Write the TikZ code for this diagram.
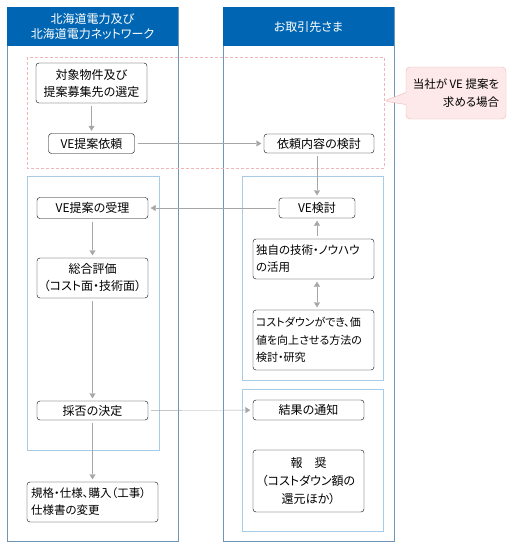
\documentclass[tikz,border=0pt]{standalone}
\usepackage{fontspec}
\setmainfont{Noto Sans CJK JP}[RawFeature={+palt}]
\usetikzlibrary{shapes,shapes.callouts,arrows.meta,positioning,calc}

\definecolor{lanehead}{HTML}{0066B3}
\definecolor{laneline}{HTML}{6F95B9}
\definecolor{groupline}{HTML}{A8CCE6}
\definecolor{calloutfill}{HTML}{FDE9E9}
\definecolor{calloutline}{HTML}{F2B4B4}
\definecolor{flowline}{HTML}{A6A6A6}

\begin{document}
\begin{tikzpicture}[x=1pt,y=-1pt,
    every node/.style={font=\fontsize{12}{17}\selectfont},
    flowbox/.style={draw=black, fill=white, rounded corners=3pt, align=center, inner sep=2pt},
    leftbox/.style={flowbox, align=left, inner xsep=3pt, font=\fontsize{11.5}{17}\selectfont},
    flow/.style={draw=flowline, -{Triangle[length=5pt,width=6pt]}, shorten <=3pt, shorten >=2.5pt},
    lane/.style={draw=laneline},
    group/.style={draw=groupline}]
    \useasboundingbox (0,0) rectangle (510,549);
    \draw[lane] (7,7) rectangle (178,541);
    \fill[lanehead] (7,7) rectangle (178,46);
    \draw[lane] (223,7) rectangle (394,541);
    \fill[lanehead] (223,7) rectangle (394,46);
    \node[text=white, align=center, font=\fontsize{12}{15}\selectfont] (headhep) at (92.5,26.5) {北海道電力及び\\北海道電力ネットワーク};
    \node[text=white] (headpartner) at (308.5,27) {お取引先さま};
    \draw[calloutline, dash pattern=on 3pt off 2pt] (27,57) rectangle (384,168);
    \draw[group] (27,176) rectangle (159,450);
    \draw[group] (242,176) rectangle (383,380);
    \draw[group] (242,389) rectangle (383,531);
    \node[rectangle callout, draw=calloutline, fill=calloutfill, rounded corners=4pt, minimum width=100pt, minimum height=52pt, align=right, font=\fontsize{11.5}{18}\selectfont, callout absolute pointer={(384,101)}, callout pointer width=12pt] (vecase) at (456,93) {当社が VE 提案を\\求める場合};
    \node[flowbox, minimum width=111pt, minimum height=40pt] (select) at (91.5,83) {対象物件及び\\提案募集先の選定};
    \node[flowbox, minimum width=86pt, minimum height=20pt] (request) at (91.5,143.5) {VE提案依頼};
    \node[flowbox, minimum width=110pt, minimum height=19pt] (review) at (319,143.5) {依頼内容の検討};
    \node[flowbox, minimum width=111pt, minimum height=21pt] (accept) at (92.5,208) {VE提案の受理};
    \node[flowbox, minimum width=111pt, minimum height=40pt] (evaluate) at (92.5,278) {総合評価\\（コスト面・技術面）};
    \node[flowbox, minimum width=111pt, minimum height=19pt] (decide) at (92.5,410.5) {採否の決定};
    \node[leftbox, minimum width=131pt, minimum height=40pt, text width=123pt] (change) at (92.5,502) {規格・仕様、購入（工事）\\仕様書の変更};
    \node[flowbox, minimum width=76pt, minimum height=20pt] (vestudy) at (317,208) {VE検討};
    \node[leftbox, minimum width=121pt, minimum height=40pt, text width=115pt] (knowhow) at (313.5,259) {独自の技術・ノウハウ\\の活用};
    \node[leftbox, minimum width=121pt, minimum height=60pt, text width=115pt, font=\fontsize{11}{17.5}\selectfont] (research) at (313.5,340) {コストダウンができ、価\\値を向上させる方法の\\検討・研究};
    \node[flowbox, minimum width=111pt, minimum height=20pt] (notify) at (308.5,410) {結果の通知};
    \node[flowbox, minimum width=111pt, minimum height=62pt, font=\fontsize{12}{18}\selectfont] (reward) at (308.5,481) {報　奨\\（コストダウン額の\\還元ほか）};
    \draw[flow] (select) -- (request);
    \draw[flow] (request) -- (review);
    \draw[flow] (review.south -| vestudy) -- (vestudy);
    \draw[flow] (vestudy) -- (accept);
    \draw[flow] (knowhow.north -| vestudy) -- (vestudy);
    \draw[flow, {Triangle[length=5pt,width=6pt]}-{Triangle[length=5pt,width=6pt]}, shorten <=2.5pt] (knowhow.south -| vestudy) -- (research.north -| vestudy);
    \draw[flow] (accept) -- (evaluate);
    \draw[flow] (evaluate) -- (decide);
    \draw[flow] (decide) -- (notify);
    \draw[flow] (decide) -- (change);
\end{tikzpicture}
\end{document}
